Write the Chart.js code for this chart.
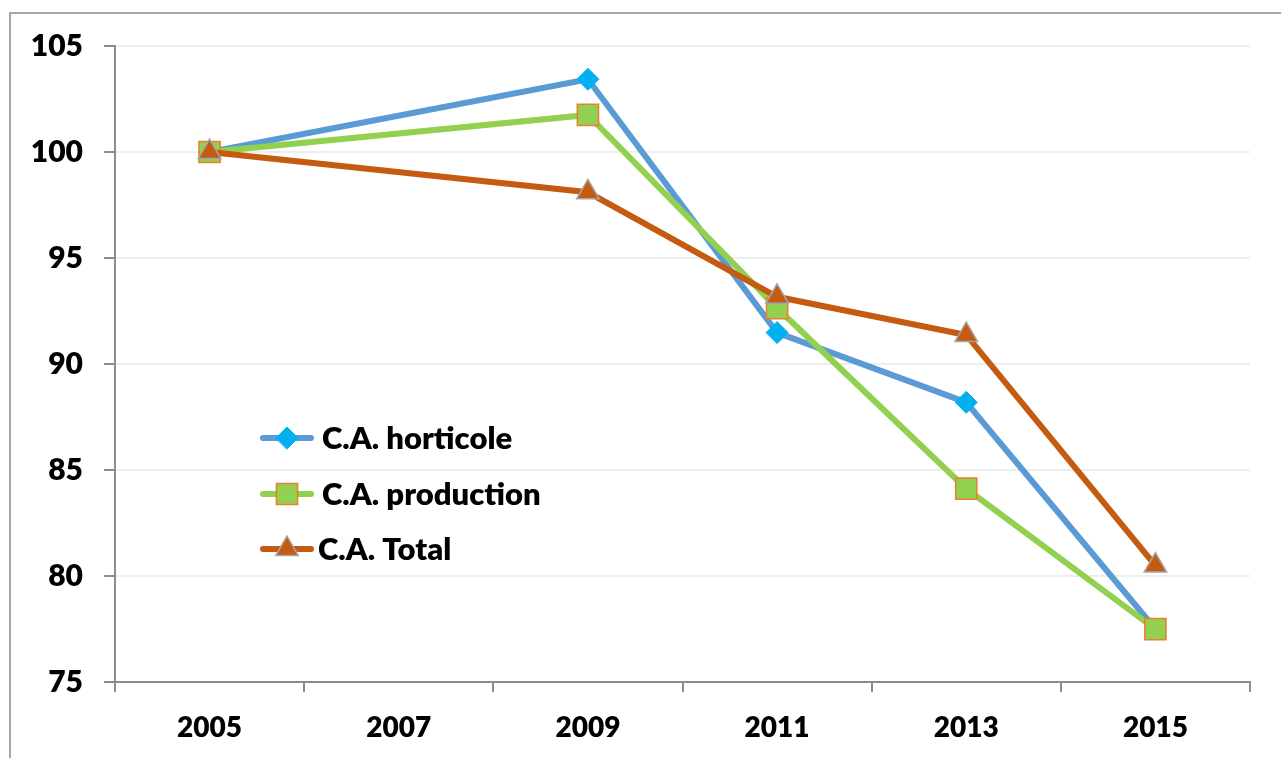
<!DOCTYPE html>
<html>
<head>
<meta charset="utf-8">
<script src="https://cdn.jsdelivr.net/npm/chart.js@4/dist/chart.umd.min.js"></script>
<style>
  html, body { margin: 0; padding: 0; background: #fff; overflow: hidden; }
  #cadre { position: absolute; left: 9px; top: 12px; width: 1320px; height: 800px; border: 2px solid #a6a6a6; }
  #graphique { position: absolute; left: 0; top: 0; }
</style>
</head>
<body>
<div id="cadre"></div>
<canvas id="graphique" width="1281" height="758"></canvas>
<script>
  // années (2007 sans valeur)
  const annees = ["2005", "2007", "2009", "2011", "2013", "2015"];
  const caHorticole  = [100, null, 103.43, 91.48, 88.19, 77.5];
  const caProduction = [100, null, 101.75, 92.64, 84.12, 77.49];
  const caTotal      = [100, null, 98.1, 93.17, 91.37, 80.49];
  const ticksY = [75, 80, 85, 90, 95, 100, 105];

  const police = "Lato, 'Open Sans', sans-serif";

  // légende dessinée dans la zone du graphique
  const legendeInterne = {
    id: "legendeInterne",
    afterDatasetsDraw(chart) {
      const ctx = chart.ctx;
      const lignes = [438, 494, 549];
      chart.data.datasets.forEach((ds, i) => {
        const y = lignes[i];
        ctx.save();
        ctx.strokeStyle = ds.borderColor;
        ctx.lineWidth = 6;
        ctx.lineCap = "round";
        ctx.beginPath();
        ctx.moveTo(263, y);
        ctx.lineTo(311, y);
        ctx.stroke();
        ctx.fillStyle = ds.pointBackgroundColor;
        ctx.strokeStyle = ds.pointBorderColor;
        ctx.lineWidth = ds.pointBorderWidth;
        Chart.helpers.drawPoint(ctx, {
          pointStyle: ds.pointStyle,
          radius: ds.pointRadius,
          borderWidth: ds.pointBorderWidth,
          rotation: 0
        }, 287, y);
        ctx.fillStyle = "#000";
        ctx.font = "800 31px " + police;
        ctx.textBaseline = "middle";
        ctx.fillText(ds.label, i === 2 ? 318 : 322, y + 1);
        ctx.restore();
      });
    }
  };

  new Chart(document.getElementById("graphique"), {
    type: "line",
    data: {
      labels: annees,
      datasets: [
        {
          label: "C.A. horticole",
          data: caHorticole,
          borderColor: "#5b9bd5",
          borderWidth: 6,
          pointStyle: "rectRot",
          pointRadius: 11,
          pointBackgroundColor: "#00b0f0",
          pointBorderColor: "#00b0f0",
          pointBorderWidth: 1,
          order: 2
        },
        {
          label: "C.A. production",
          data: caProduction,
          borderColor: "#92d050",
          borderWidth: 6,
          pointStyle: "rect",
          pointRadius: 15,
          pointBackgroundColor: "#92d050",
          pointBorderColor: "#ed7d31",
          pointBorderWidth: 1.5,
          order: 1
        },
        {
          label: "C.A. Total",
          data: caTotal,
          borderColor: "#c55a11",
          borderWidth: 6,
          pointStyle: "triangle",
          pointRadius: 13,
          pointBackgroundColor: "#c55a11",
          pointBorderColor: "#a5a5a5",
          pointBorderWidth: 1.5,
          order: 0
        }
      ]
    },
    options: {
      responsive: false,
      animation: false,
      spanGaps: true,
      layout: { padding: { top: 46, right: 31, bottom: 0, left: 0 } },
      plugins: {
        legend: { display: false },
        tooltip: { enabled: false }
      },
      scales: {
        x: {
          offset: true,
          grid: {
            offset: true,
            drawOnChartArea: false,
            drawTicks: true,
            tickLength: 10,
            tickColor: "#8c8c8c",
            lineWidth: 2
          },
          border: { color: "#8c8c8c", width: 2 },
          ticks: {
            color: "#000",
            padding: 19,
            maxRotation: 0,
            font: { family: police, size: 28, weight: "800" }
          },
          afterFit(scale) { scale.height = 76; }
        },
        y: {
          min: 75,
          max: 105,
          afterBuildTicks(scale) { scale.ticks = ticksY.map(v => ({ value: v })); },
          grid: {
            color: "#eeeeee",
            lineWidth: 2,
            tickLength: 11,
            tickColor: "#8c8c8c"
          },
          border: { color: "#8c8c8c", width: 2 },
          ticks: {
            color: "#000",
            padding: 21,
            font: { family: police, size: 30, weight: "800" }
          },
          afterFit(scale) { scale.width = 115; }
        }
      }
    },
    plugins: [legendeInterne]
  });
</script>
</body>
</html>
